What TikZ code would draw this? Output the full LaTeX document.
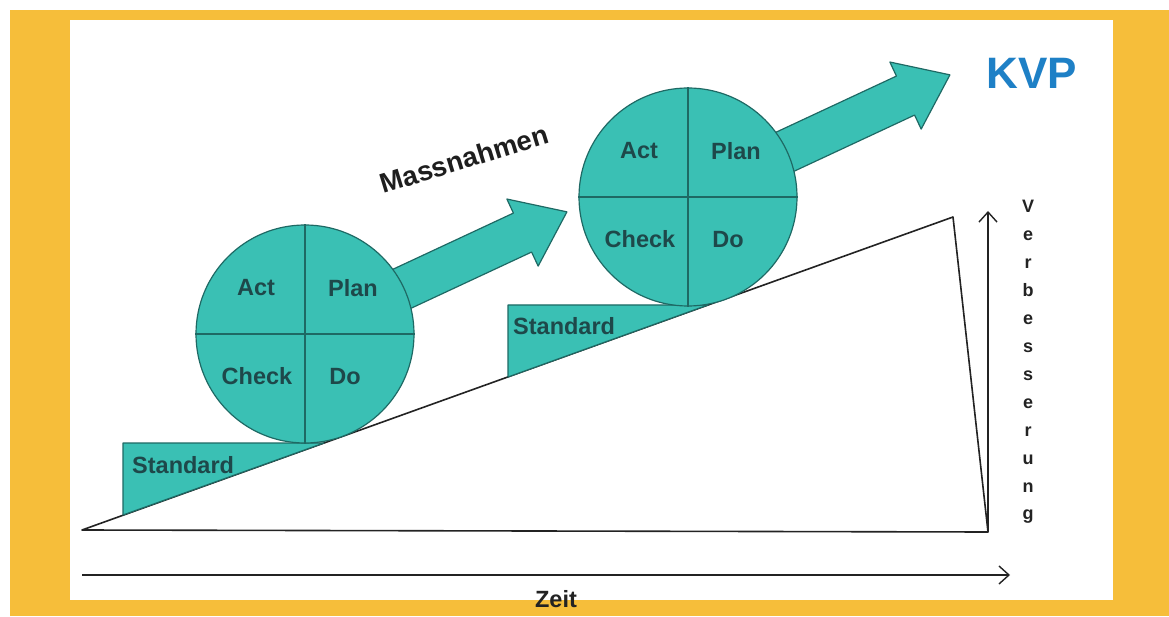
\documentclass[tikz,border=0pt]{standalone}
\usepackage{fontspec}
\setmainfont{Liberation Sans}
\usetikzlibrary{arrows.meta,calc}
\definecolor{frameorange}{RGB}{246,190,58}
\definecolor{tealfill}{RGB}{58,192,180}
\definecolor{tealline}{RGB}{30,105,100}
\definecolor{tealtext}{RGB}{30,72,74}
\definecolor{kvpblue}{RGB}{30,128,198}
\definecolor{axisgray}{RGB}{35,35,35}

\begin{document}
\begin{tikzpicture}[x=1pt,y=1pt,
  shapefill/.style={fill=tealfill, draw=tealline, line width=1.2pt, line join=round},
  cyclelabel/.style={font=\bfseries\fontsize{23.5}{26}\selectfont, text=tealtext, inner sep=0pt},
  axisline/.style={draw=axisgray, line width=1.6pt},
  axisarrow/.style={axisline, -{Straight Barb[length=10pt,width=18pt,line width=1.4pt]}},
  letter/.style={font=\bfseries\fontsize{18}{20}\selectfont, text=axisgray, anchor=base, inner sep=0pt},
  bigarrow/.pic={
    \draw[shapefill] (0,21.5) -- (240,21.5) -- (240,37) -- (289,0)
      -- (240,-37) -- (240,-21.5) -- (0,-21.5) -- cycle;
  }
]
\useasboundingbox (0,0) rectangle (1169,616);
% page and frame
\fill[white] (0,0) rectangle (1169,616);
\fill[frameorange] (10,0) rectangle (1169,606);
\fill[white] (70,16) rectangle (1113,596);

% improvement wedge
\coordinate (origin) at (82,86);
\coordinate (peak) at (953,399);
\coordinate (corner) at (988,84);
\draw[axisline, line join=round] (origin) -- (peak) -- (corner) -- cycle;

% axes
\coordinate (zeitstart) at (82,41);
\coordinate (zeitend) at (1010,41);
\coordinate (vtop) at (988,405);
\draw[axisarrow] (zeitstart) -- (zeitend);
\draw[axisarrow] (corner) -- (vtop);

% standard wedges
\draw[shapefill] (123,173) -- (324,173) -- (123,101) -- cycle;
\draw[shapefill] (508,311) -- (708,311) -- (508,239) -- cycle;
\node[cyclelabel, anchor=base west] (stdA) at (132,143) {Standard};
\node[cyclelabel, anchor=base west] (stdB) at (513,281) {Standard};

% cycle centres
\coordinate (cA) at (305,282);
\coordinate (cB) at (688,419);

% measure arrows
\pic[rotate=25] at (cA) {bigarrow};
\pic[rotate=25] at (cB) {bigarrow};

% PDCA circles
\foreach \c/\n in {cA/cycleA, cB/cycleB}{
  \node[circle, shapefill, minimum size=218pt, inner sep=0pt] (\n) at (\c) {};
  \draw[tealline, line width=1.2pt] (\n.north) -- (\n.south);
  \draw[tealline, line width=1.2pt] (\n.west) -- (\n.east);
  \node[cyclelabel] (\n-act) at ($(\c)+(-49,46)$) {Act};
  \node[cyclelabel] (\n-plan) at ($(\c)+(48,46)$) {Plan};
  \node[cyclelabel] (\n-check) at ($(\c)+(-48,-42)$) {Check};
  \node[cyclelabel] (\n-do) at ($(\c)+(40,-43)$) {Do};
}

% labels
\node[font=\bfseries\fontsize{27.5}{30}\selectfont, text={rgb,255:red,30;green,30;blue,30}, rotate=17, inner sep=0pt] (massnahmen) at (464,457) {Massnahmen};
\node[font=\bfseries\fontsize{44}{48}\selectfont, text=kvpblue, inner sep=0pt] (kvp) at (1032,543) {KVP};
\node[anchor=base, font=\bfseries\fontsize{23.5}{26}\selectfont, text=axisgray, inner sep=0pt] (zeit) at (556,9) {Zeit};
\foreach \ch [count=\i] in {V,e,r,b,e,s,s,e,r,u,n,g}
  \node[letter] (vb\i) at (1028,{403-(\i-1)*27.9}) {\ch};
\end{tikzpicture}
\end{document}
